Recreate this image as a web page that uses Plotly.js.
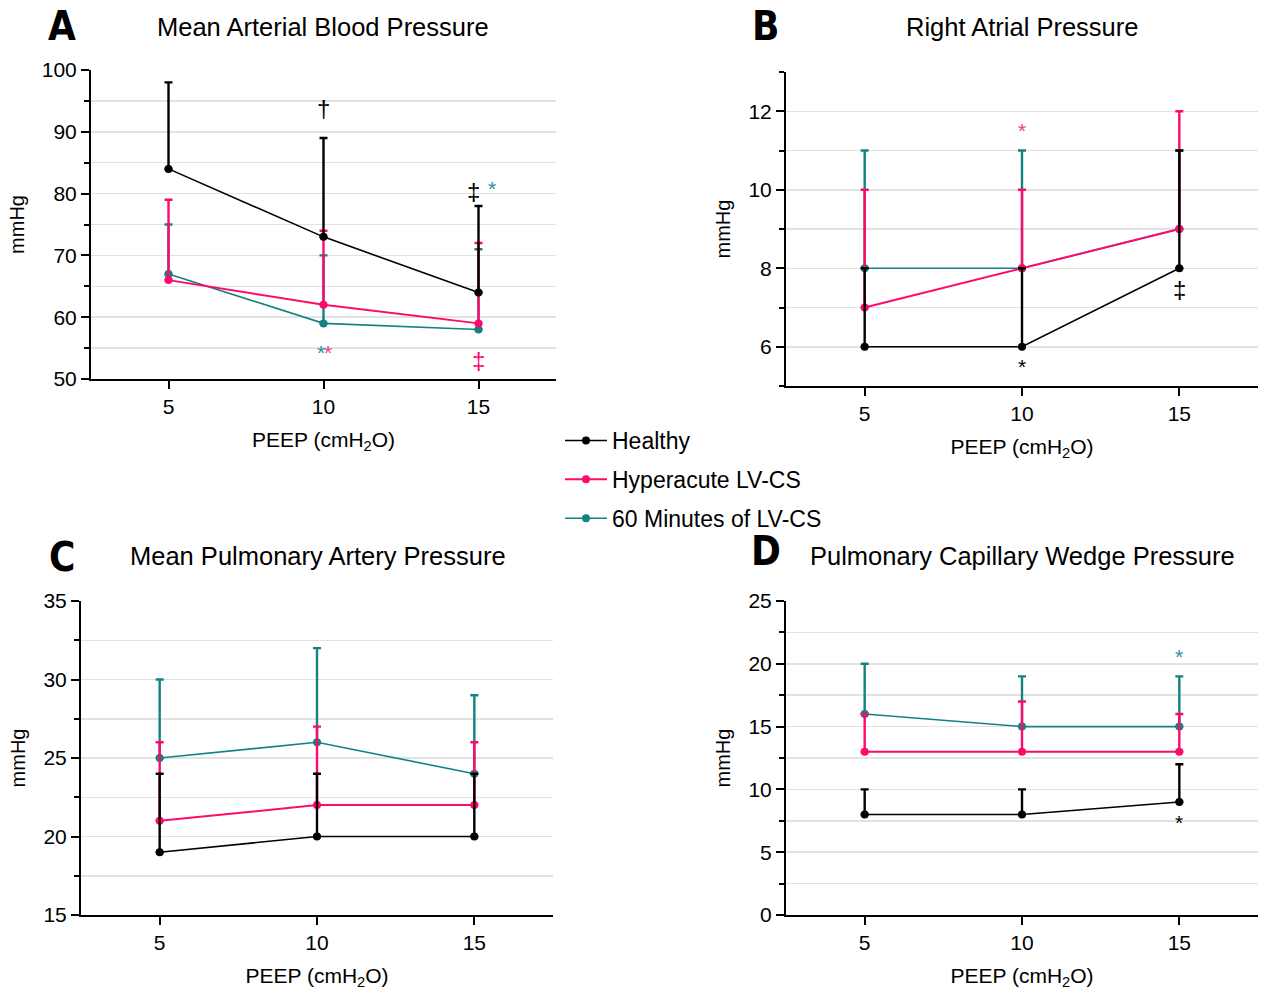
<!DOCTYPE html>
<html>
<head>
<meta charset="utf-8">
<script src="https://cdn.plot.ly/plotly-3.0.1.min.js"></script>
<style>html,body{margin:0;padding:0;background:#fff;}#chart{width:1263px;height:994px;}</style>
</head>
<body>
<div id="chart"></div>
<script>
// ---- data ----
const peep = [5, 10, 15];
const seriesNames = ['Healthy', 'Hyperacute LV-CS', '60 Minutes of LV-CS'];

// A: Mean Arterial Blood Pressure (mean, upper error bar end)
const mapHealthy = [84, 73, 64];
const mapHealthyUp = [98, 89, 78];
const mapHyper = [66, 62, 59];
const mapHyperUp = [79, 74, 72];
const map60 = [67, 59, 58];
const map60Up = [75, 70, 71];

// B: Right Atrial Pressure
const rapHealthy = [6, 6, 8];
const rapHealthyUp = [8, 8, 11];
const rapHyper = [7, 8, 9];
const rapHyperUp = [10, 10, 12];
const rap60 = [8, 8, 9];
const rap60Up = [11, 11, 11];

// C: Mean Pulmonary Artery Pressure
const mpapHealthy = [19, 20, 20];
const mpapHealthyUp = [24, 24, 24];
const mpapHyper = [21, 22, 22];
const mpapHyperUp = [26, 27, 26];
const mpap60 = [25, 26, 24];
const mpap60Up = [30, 32, 29];

// D: Pulmonary Capillary Wedge Pressure
const pcwpHealthy = [8, 8, 9];
const pcwpHealthyUp = [10, 10, 12];
const pcwpHyper = [13, 13, 13];
const pcwpHyperUp = [16, 17, 16];
const pcwp60 = [16, 15, 15];
const pcwp60Up = [20, 19, 19];

const panelTitles = ['Mean Arterial Blood Pressure', 'Right Atrial Pressure',
  'Mean Pulmonary Artery Pressure', 'Pulmonary Capillary Wedge Pressure'];
const panelLetters = ['A', 'B', 'C', 'D'];

// ---- styling ----
const colBlack = '#000000';
const colPink = '#FF0A6C';
const colTeal = '#138282';
const colTealStar = '#2A8FA8';
const colPinkStar = '#F23E86';
const colors = [colBlack, colPink, colTeal];
const FONT = 'Liberation Sans, Arial, sans-serif';

const panels = [
  {data: [[mapHealthy, mapHealthyUp], [mapHyper, mapHyperUp], [map60, map60Up]], ax: ''},
  {data: [[rapHealthy, rapHealthyUp], [rapHyper, rapHyperUp], [rap60, rap60Up]], ax: '2'},
  {data: [[mpapHealthy, mpapHealthyUp], [mpapHyper, mpapHyperUp], [mpap60, mpap60Up]], ax: '3'},
  {data: [[pcwpHealthy, pcwpHealthyUp], [pcwpHyper, pcwpHyperUp], [pcwp60, pcwp60Up]], ax: '4'}
];

const traces = [];
panels.forEach((p, pi) => {
  // draw order: teal, pink, black (black on top)
  [2, 1, 0].forEach(si => {
    const mean = p.data[si][0], up = p.data[si][1];
    traces.push({
      type: 'scatter', mode: 'lines+markers',
      x: peep, y: mean,
      name: seriesNames[si],
      legendgroup: 'g' + si,
      legendrank: si + 1,
      showlegend: pi === 0,
      xaxis: 'x' + p.ax, yaxis: 'y' + p.ax,
      line: {color: colors[si], width: si === 1 ? 2 : 1.6},
      marker: {color: colors[si], size: 8},
      error_y: {type: 'data', symmetric: false,
        array: up.map((u, i) => u - mean[i]),
        arrayminus: mean.map(() => 0),
        color: colors[si], thickness: 2.4, width: 4},
      cliponaxis: false,
      hoverinfo: 'x+y'
    });
  });
});

const W = 1263, H = 994;
const px = (a, b) => [a / W, b / W];
const py = (top, bottom) => [1 - bottom / H, 1 - top / H];

function xax(dom, anchor) {
  return {domain: dom, anchor: anchor, range: [2.5, 17.5], tickvals: peep,
    showline: true, linecolor: '#000', linewidth: 2, ticks: 'outside', ticklen: 8, tickwidth: 2,
    tickcolor: '#000', showgrid: false, zeroline: false,
    tickfont: {family: FONT, size: 21, color: '#000'},
    title: {text: 'PEEP (cmH<sub>2</sub>O)', font: {family: FONT, size: 21, color: '#000'}, standoff: 15}};
}
function yax(dom, anchor, range, dtick, minor) {
  return {domain: dom, anchor: anchor, range: range, dtick: dtick, tick0: 0,
    showline: true, linecolor: '#000', linewidth: 2, ticks: 'outside', ticklen: 8, tickwidth: 2,
    tickcolor: '#000', showgrid: true, gridcolor: '#e2e2e2', gridwidth: 1.5, zeroline: false,
    minor: {dtick: minor, tick0: 0, ticks: 'outside', ticklen: 5, tickwidth: 2, tickcolor: '#000',
      showgrid: true, gridcolor: '#e2e2e2', gridwidth: 1.5},
    tickfont: {family: FONT, size: 21, color: '#000'},
    title: {text: 'mmHg', font: {family: FONT, size: 20, color: '#000'}, standoff: 12}};
}

const annotations = [];
const letterPos = [[62, 26], [766, 26], [62, 557], [766, 551]];
const titlePos = [[323, 27], [1022, 27], [318, 556], [1022, 556]];
panelLetters.forEach((l, i) => {
  annotations.push({xref: 'paper', yref: 'paper', x: letterPos[i][0] / W, y: 1 - letterPos[i][1] / H,
    xanchor: 'center', yanchor: 'middle', showarrow: false, text: '<b>' + l + '</b>',
    font: {family: 'Liberation Sans Narrow, DejaVu Sans Condensed, Arial Narrow, sans-serif', size: 40, color: '#000'}});
  annotations.push({xref: 'paper', yref: 'paper', x: titlePos[i][0] / W, y: 1 - titlePos[i][1] / H,
    xanchor: 'center', yanchor: 'middle', showarrow: false, text: panelTitles[i],
    font: {family: FONT, size: 25.5, color: '#000'}});
});

// significance markers
const sig = [
  ['x', 'y', 10, 93.7, '†', colBlack, 24],
  ['x', 'y', 14.85, 80.4, '‡', colBlack, 24],
  ['x', 'y', 15.45, 80.9, '*', colTealStar, 21],
  ['x', 'y', 9.91, 54.3, '*', colTealStar, 21],
  ['x', 'y', 10.13, 54.3, '*', colPinkStar, 21],
  ['x', 'y', 15, 53.0, '‡', colPink, 24],
  ['x2', 'y2', 10, 11.52, '*', colPinkStar, 21],
  ['x2', 'y2', 15, 13.1, '‡', colPink, 24],
  ['x2', 'y2', 10, 5.5, '*', colBlack, 21],
  ['x2', 'y2', 15, 7.45, '‡', colBlack, 24],
  ['x4', 'y4', 15, 20.55, '*', colTealStar, 21],
  ['x4', 'y4', 15, 7.4, '*', colBlack, 21]
];
sig.forEach(s => annotations.push({xref: s[0], yref: s[1], x: s[2], y: s[3], text: s[4],
  showarrow: false, xanchor: 'center', yanchor: 'middle', font: {family: FONT, size: s[6], color: s[5]}}));

const layout = {
  width: W, height: H,
  margin: {l: 0, r: 0, t: 0, b: 0},
  paper_bgcolor: '#fff', plot_bgcolor: 'rgba(0,0,0,0)',
  showlegend: true,
  legend: {x: 560 / W, y: 1 - 419 / H, xanchor: 'left', yanchor: 'top',
    traceorder: 'grouped', tracegroupgap: 6, itemwidth: 42,
    font: {family: FONT, size: 23, color: '#000'}, bgcolor: 'rgba(0,0,0,0)'},
  xaxis: xax(px(91, 556), 'y'),
  yaxis: yax(py(70, 379), 'x', [50, 100], 10, 5),
  xaxis2: xax(px(786, 1258), 'y2'),
  yaxis2: yax(py(72, 386), 'x2', [5, 13], 2, 1),
  xaxis3: xax(px(81, 553), 'y3'),
  yaxis3: yax(py(601, 915), 'x3', [15, 35], 5, 2.5),
  xaxis4: xax(px(786, 1258), 'y4'),
  yaxis4: yax(py(601, 915), 'x4', [0, 25], 5, 2.5),
  annotations: annotations
};

Plotly.newPlot('chart', traces, layout, {displayModeBar: false, staticPlot: true});
</script>
</body>
</html>
